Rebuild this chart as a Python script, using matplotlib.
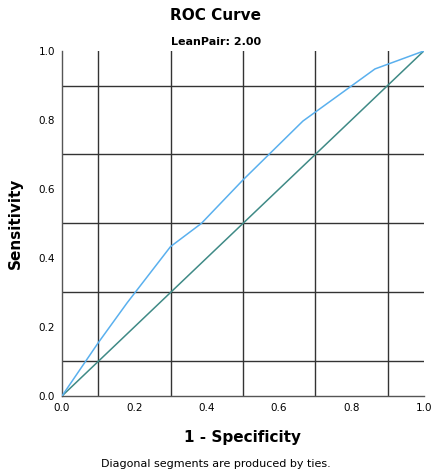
import matplotlib
matplotlib.use("Agg")
import matplotlib.pyplot as plt

# ROC curve points (1 - specificity, sensitivity)
fpr = [0.0, 0.10, 0.18, 0.30, 0.385, 0.50, 0.666, 0.865, 1.0]
tpr = [0.0, 0.154, 0.27, 0.433, 0.50, 0.626, 0.797, 0.948, 1.0]
ref_line = [0.0, 1.0]
grid_pos = [0.1, 0.3, 0.5, 0.7, 0.9]
ticks = [0.0, 0.2, 0.4, 0.6, 0.8, 1.0]

fig = plt.figure(figsize=(4.32, 4.74), dpi=100)
ax = fig.add_axes([0.1435, 0.1646, 0.8375, 0.7278])

for g in grid_pos:
    ax.axvline(g, color="#333333", lw=1.0, zorder=1)
    ax.axhline(g, color="#333333", lw=1.0, zorder=1)

ax.plot(ref_line, ref_line, color="#3f8a86", lw=1.1, zorder=2)
ax.plot(fpr, tpr, color="#5ab0ee", lw=1.1, zorder=3)

ax.set_xlim(0, 1)
ax.set_ylim(0, 1)
ax.set_xticks(ticks)
ax.set_yticks(ticks)
ax.set_xticklabels([f"{t:.1f}" for t in ticks])
ax.set_yticklabels([f"{t:.1f}" for t in ticks])
ax.tick_params(length=0, labelsize=7.5)
ax.tick_params(axis="x", pad=5)
ax.tick_params(axis="y", pad=5)
for s in ["top", "right"]:
    ax.spines[s].set_visible(False)
for s in ["left", "bottom"]:
    ax.spines[s].set_color("#555555")
    ax.spines[s].set_linewidth(1.0)

ax.set_xlabel("1 - Specificity", fontsize=11, fontweight="bold", labelpad=12)
ax.set_ylabel("Sensitivity", fontsize=11, fontweight="bold", labelpad=11)

fig.text(0.5, 0.968, "ROC Curve", ha="center", va="center", fontsize=11, fontweight="bold")
fig.text(0.5, 0.912, "LeanPair: 2.00", ha="center", va="center", fontsize=8, fontweight="bold")
fig.text(0.5, 0.021, "Diagonal segments are produced by ties.", ha="center", va="center", fontsize=8)

fig.savefig("out.png", dpi=100)
